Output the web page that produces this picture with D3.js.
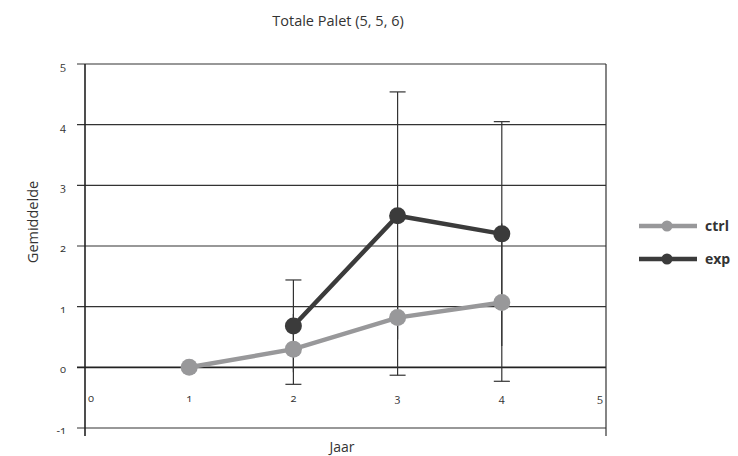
<!DOCTYPE html>
<html>
<head>
<meta charset="utf-8">
<script src="https://cdn.jsdelivr.net/npm/d3@7/dist/d3.min.js"></script>
<style>
  body { margin: 0; background: #fff; }
  text { font-family: "Open Sans", "Noto Sans", sans-serif; fill: #333; }
  .num { font-variant-numeric: oldstyle-nums; }
</style>
</head>
<body>
<div id="chart"></div>
<script>
const years = [1, 2, 3, 4]
const yTicks = [-1, 0, 1, 2, 3, 4, 5]
const xTicks = [0, 1, 2, 3, 4, 5]

// gemiddelde per jaar (null = geen meting)
const ctrl = [0, 0.3, 0.82, 1.07]
const exp = [null, 0.68, 2.5, 2.2]

// foutbalken: onder voor ctrl, boven voor exp
const ctrlLow = [null, -0.28, -0.13, -0.23]
const ctrlHigh = [null, 0.88, 1.77, 2.37]
const expLow = [null, -0.08, 0.46, 0.35]
const expHigh = [null, 1.44, 4.54, 4.05]

const width = 738
const height = 456

const svg = d3.select('#chart').append('svg')
    .attr('width', width)
    .attr('height', height)

const x = d3.scaleLinear().domain([0, 5]).range([85, 606])
const y = d3.scaleLinear().domain([-1, 5]).range([428, 64])

// title
svg.append('text')
    .attr('x', 338).attr('y', 26)
    .attr('text-anchor', 'middle')
    .attr('font-size', 14.5)
    .text('Totale Palet (5, 5, 6)')

// grid
const grid = svg.append('g')
grid.selectAll('line')
    .data(yTicks)
    .enter()
    .append('line')
    .attr('x1', x(0) - 8).attr('x2', x(5))
    .attr('y1', (d) => y(d)).attr('y2', (d) => y(d))
    .attr('stroke', (d) => d === 0 ? '#222' : '#333')
    .attr('stroke-width', (d) => d === 0 ? 1.6 : 1.2)

grid.append('line')
    .attr('x1', x(0)).attr('x2', x(0))
    .attr('y1', y(5)).attr('y2', y(-1) + 8)
    .attr('stroke', '#222').attr('stroke-width', 1.6)
grid.append('line')
    .attr('x1', x(5)).attr('x2', x(5))
    .attr('y1', y(5)).attr('y2', y(-1) + 8)
    .attr('stroke', '#333').attr('stroke-width', 1.2)

// y labels
svg.append('g').selectAll('text')
    .data(yTicks)
    .enter()
    .append('text')
    .attr('class', 'num')
    .attr('x', 66)
    .attr('y', (d) => y(d) + 2)
    .attr('dy', '0.35em')
    .attr('text-anchor', 'end')
    .attr('font-size', 11)
    .text((d) => d)

// x labels, inside the plot just under zero
svg.append('g').selectAll('text')
    .data(xTicks)
    .enter()
    .append('text')
    .attr('class', 'num')
    .attr('x', (d) => d === 0 ? x(d) + 3 : d === 5 ? x(d) - 3 : x(d))
    .attr('y', y(-0.5))
    .attr('dy', '0.35em')
    .attr('text-anchor', (d) => d === 0 ? 'start' : d === 5 ? 'end' : 'middle')
    .attr('font-size', 11)
    .text((d) => d)

// axis titles
svg.append('text')
    .attr('transform', 'translate(38,' + 222 + ') rotate(-90)')
    .attr('text-anchor', 'middle')
    .attr('font-size', 14.5)
    .text('Gemiddelde')
svg.append('text')
    .attr('x', 342).attr('y', 452)
    .attr('text-anchor', 'middle')
    .attr('font-size', 14)
    .text('Jaar')

// error bars
const bars = svg.append('g')
function errorBars(low, high, color, capLow, capHigh) {
    years.forEach((yr, i) => {
        if (low[i] === null) return
        bars.append('line')
            .attr('x1', x(yr)).attr('x2', x(yr))
            .attr('y1', y(low[i])).attr('y2', y(high[i]))
            .attr('stroke', color).attr('stroke-width', 1.2)
        if (capLow) {
            bars.append('line')
                .attr('x1', x(yr) - 8).attr('x2', x(yr) + 8)
                .attr('y1', y(low[i])).attr('y2', y(low[i]))
                .attr('stroke', color).attr('stroke-width', 1.2)
        }
        if (capHigh) {
            bars.append('line')
                .attr('x1', x(yr) - 8).attr('x2', x(yr) + 8)
                .attr('y1', y(high[i])).attr('y2', y(high[i]))
                .attr('stroke', color).attr('stroke-width', 1.2)
        }
    })
}
errorBars(ctrlLow, ctrlHigh, '#333', true, false)
errorBars(expLow, expHigh, '#333', false, true)

// series
const series = [
    { name: 'ctrl', values: ctrl, color: '#98989a' },
    { name: 'exp', values: exp, color: '#3b3b3b' }
]

const line = d3.line()
    .defined((d) => d.v !== null)
    .x((d) => x(d.yr))
    .y((d) => y(d.v))

series.forEach((s) => {
    const pts = years.map((yr, i) => ({ yr: yr, v: s.values[i] }))
    svg.append('path')
        .datum(pts)
        .attr('d', line)
        .attr('fill', 'none')
        .attr('stroke', s.color)
        .attr('stroke-width', 4.5)
    svg.append('g').selectAll('circle')
        .data(pts.filter((d) => d.v !== null))
        .enter()
        .append('circle')
        .attr('cx', (d) => x(d.yr))
        .attr('cy', (d) => y(d.v))
        .attr('r', 8.5)
        .attr('fill', s.color)
})

// legend
const legend = svg.append('g')
    .selectAll('g')
    .data(series)
    .enter()
    .append('g')
    .attr('transform', (d, i) => 'translate(639,' + (226 + i * 33) + ')')
legend.append('line')
    .attr('x1', 0).attr('x2', 58)
    .attr('stroke', (d) => d.color)
    .attr('stroke-width', 4.5)
legend.append('circle')
    .attr('cx', 28).attr('r', 5.5)
    .attr('fill', (d) => d.color)
legend.append('text')
    .attr('x', 66).attr('dy', '0.35em')
    .attr('font-size', 14)
    .attr('font-weight', 'bold')
    .text((d) => d.name)
</script>
</body>
</html>
